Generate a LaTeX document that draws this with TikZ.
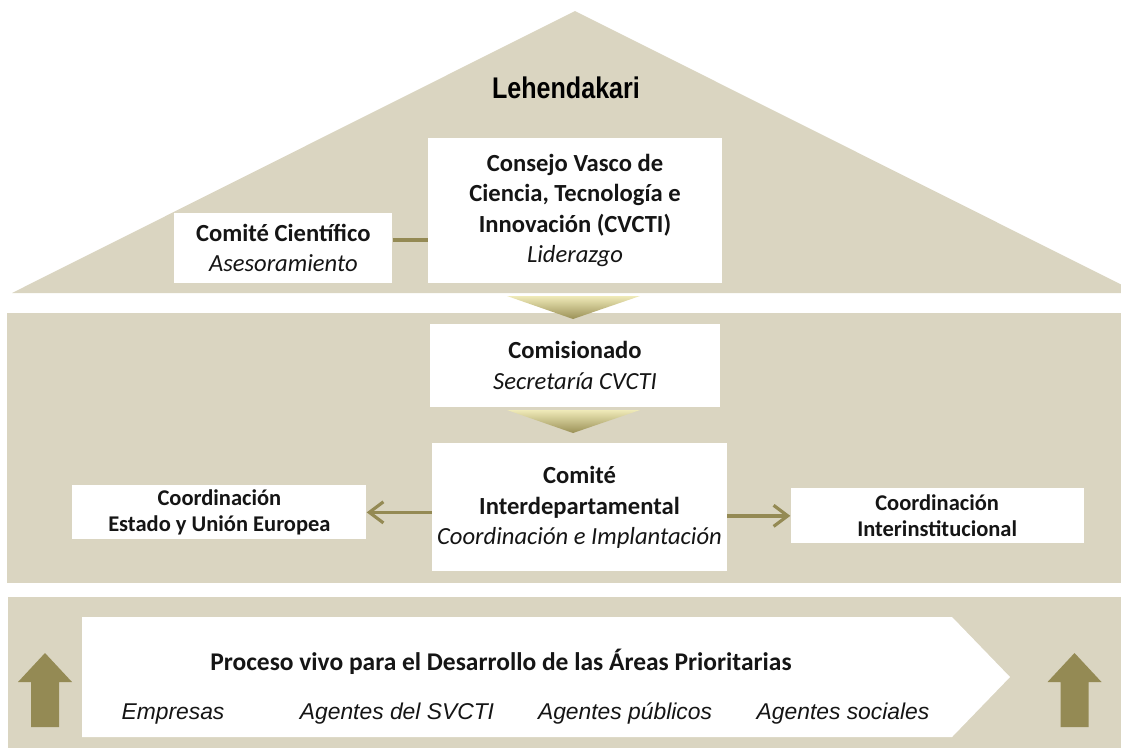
\documentclass[tikz,border=0pt]{standalone}
\usepackage{fontspec}
\setmainfont{Carlito}
\newfontfamily\arialfont{Liberation Sans}
\newfontfamily\narrowfont[FakeStretch=0.84]{Liberation Sans}
\usepackage{tikz}
\usetikzlibrary{positioning, arrows.meta, calc}

\definecolor{bandbeige}{HTML}{DAD5C1}
\definecolor{olivedark}{HTML}{948A54}
\definecolor{chevtop}{HTML}{EFEAB8}
\definecolor{chevbot}{HTML}{9A9056}
\definecolor{inkblack}{HTML}{151515}

\begin{document}
\begin{tikzpicture}[
  x=0.02cm, y=-0.02cm,
  box/.style={fill=white, align=center, inner sep=2pt, text=inkblack, font=\fontsize{14}{17.4}\selectfont},
  sidebox/.style={fill=white, align=center, inner sep=2pt, text=inkblack, font=\bfseries\fontsize{12.8}{15}\selectfont},
  agent/.style={anchor=base, font=\arialfont\itshape\fontsize{13}{15}\selectfont, text=inkblack},
  link/.style={line width=2pt, draw=olivedark},
  flow/.style={link, -{Straight Barb[length=8pt, width=12pt, line width=1.8pt]}},
  chevron/.style={top color=chevtop, bottom color=chevbot},
  >=Stealth
]
\clip (0,0) rectangle (1121,748);

% Roof and bands
\fill[bandbeige] (12,293) -- (575,11) -- (1138,293) -- cycle;
\fill[bandbeige] (7,313) rectangle (1121,583);
\fill[bandbeige] (8,597) rectangle (1121,748);

% Roof
\node[font=\narrowfont\bfseries\fontsize{17}{20}\selectfont] (lehen) at (566,88) {Lehendakari};
\node[box, minimum width=5.88cm, minimum height=2.9cm] (cvcti) at (575,210.5)
  {\textbf{Consejo Vasco de}\\\textbf{Ciencia, Tecnología e}\\\textbf{Innovación (CVCTI)}\\\textit{Liderazgo}};
\node[box, minimum width=4.36cm, minimum height=1.4cm, left=0.7cm of cvcti.south west, anchor=south east] (cientif)
  {\textbf{Comité Científico}\\\textit{Asesoramiento}};

% Middle band
\node[box, minimum width=5.8cm, minimum height=1.66cm, below=0.8cm of cvcti] (comis)
  {\textbf{Comisionado}\\\textit{Secretaría CVCTI}};
\node[box, minimum width=5.9cm, minimum height=2.56cm, below=0.72cm of comis, xshift=0.09cm] (interdep)
  {\textbf{Comité}\\\textbf{Interdepartamental}\\\textit{Coordinación e Implantación}};
\node[sidebox, minimum width=5.88cm, minimum height=1.08cm, left=1.3cm of interdep, yshift=-0.1cm] (estado)
  {Coordinación\\Estado y Unión Europea};
\node[sidebox, minimum width=5.86cm, minimum height=1.1cm, right=1.26cm of interdep, yshift=-0.17cm] (interinst)
  {Coordinación\\Interinstitucional};

% Chevrons
\foreach \cy in {296, 410}
  \shade[chevron] (507,\cy) -- (640,\cy) -- (573,\cy+23) -- cycle;

% Connectors
\draw[link] ([yshift=0.16cm]cientif.east) -- ([yshift=0.16cm]cientif.east -| cvcti.west);
\draw[flow] (interdep.west |- estado.east) -- (estado.east);
\draw[flow] (interdep.east |- interinst.west) -- (interinst.west);

% Bottom band
\fill[white] (82,617) -- (952,617) -- (1010,677) -- (952,737) -- (82,737) -- cycle;
\foreach \ax in {45, 1074.5}
  \fill[olivedark] (\ax-14,727) -- (\ax-14,682) -- (\ax-27,682) -- (\ax,653)
    -- (\ax+27,682) -- (\ax+14,682) -- (\ax+14,727) -- cycle;
\node[font=\bfseries\fontsize{14.5}{17}\selectfont, text=inkblack] (proceso) at (501,662)
  {Proceso vivo para el Desarrollo de las Áreas Prioritarias};
\foreach \n/\ax/\txt in {emp/173/Empresas, svcti/397/Agentes del SVCTI, pub/625/Agentes públicos, soc/843/Agentes sociales}
  \node[agent] (ag-\n) at (\ax,719) {\txt};

\end{tikzpicture}
\end{document}
